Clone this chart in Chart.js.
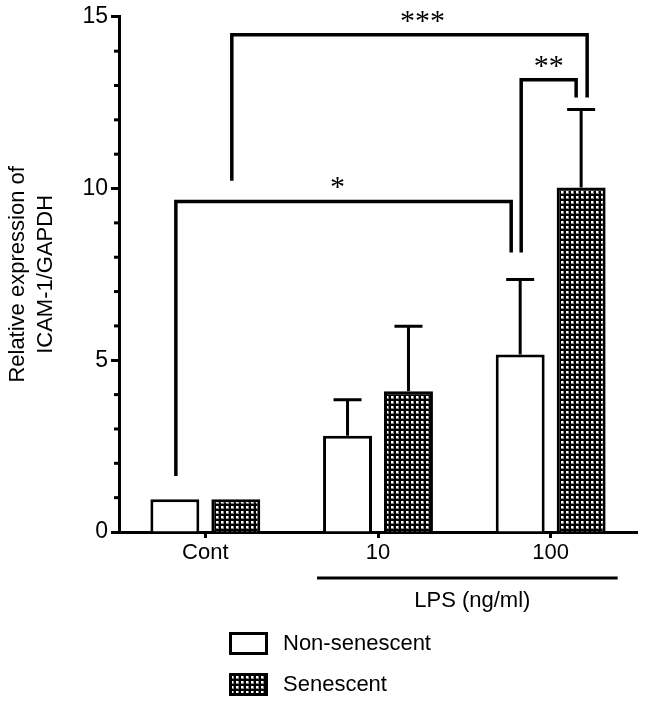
<!DOCTYPE html>
<html>
<head>
<meta charset="utf-8">
<script src="https://cdn.jsdelivr.net/npm/chart.js@4/dist/chart.umd.min.js"></script>
<style>
html,body{margin:0;padding:0;background:#fff}
</style>
</head>
<body>
<canvas id="chart" width="646" height="705"></canvas>
<script>
// values
const categories=['Cont','10','100'];
const seriesNames=['Non-senescent','Senescent'];
const nonSenescent=[0.95,2.8,5.17];
const senescent=[0.95,4.1,10.03];
const nonSenescentSD=[0,1.05,2.18];
const senescentSD=[0,1.89,2.27];
const yMax=15;
const yStep=5;

// significance brackets: [category, series] at each end, heights in y units
const bracketText=['*','**','***'];
const bracketFrom=[[0,0],[2,0],[0,1]];
const bracketTo=[[2,0],[2,1],[2,1]];
const bracketTop=[9.62,13.17,14.48];
const bracketFromEnd=[1.63,8.14,10.23];
const bracketToEnd=[8.14,12.65,12.65];

const FONT='"Liberation Sans", Arial, sans-serif';

const canvas=document.getElementById('chart');
const ctx=canvas.getContext('2d');

// checkered fill for the senescent bars
const tile=document.createElement('canvas');
tile.width=5;tile.height=5;
const tc=tile.getContext('2d');
tc.fillStyle='#000';tc.fillRect(0,0,5,5);
tc.fillStyle='#888';tc.fillRect(1,1,3,3);
tc.fillStyle='#fff';tc.fillRect(1,1,2,2);
const checker=ctx.createPattern(tile,'repeat');

const sds=[nonSenescentSD,senescentSD];

const extras={
  id:'extras',
  afterDatasetsDraw(chart){
    const c=chart.ctx, x=chart.scales.x, y=chart.scales.y, area=chart.chartArea;
    c.save();
    c.strokeStyle='#000';
    c.lineWidth=3;
    c.lineCap='butt';

    // minor ticks on y axis
    for(let v=1;v<yMax;v++){
      if(v%yStep===0) continue;
      const py=y.getPixelForValue(v);
      c.beginPath();c.moveTo(area.left-5,py);c.lineTo(area.left,py);c.stroke();
    }

    // error bars (upper only)
    chart.data.datasets.forEach((ds,di)=>{
      const meta=chart.getDatasetMeta(di);
      meta.data.forEach((bar,i)=>{
        const sd=sds[di][i];
        if(!sd) return;
        const top=y.getPixelForValue(ds.data[i]+sd);
        c.beginPath();
        c.moveTo(bar.x,bar.y);c.lineTo(bar.x,top);
        c.moveTo(bar.x-14,top);c.lineTo(bar.x+14,top);
        c.stroke();
      });
    });

    // brackets
    const fromShift=[1,1,-4], toShift=[-9,-5,6], labelShift=[-6,0,13];
    c.lineWidth=3.5;
    c.lineJoin='miter';
    bracketText.forEach((t,k)=>{
      const a=chart.getDatasetMeta(bracketFrom[k][1]).data[bracketFrom[k][0]];
      const b=chart.getDatasetMeta(bracketTo[k][1]).data[bracketTo[k][0]];
      const x1=a.x+fromShift[k], x2=b.x+toShift[k];
      const yt=y.getPixelForValue(bracketTop[k]);
      c.beginPath();
      c.moveTo(x1,y.getPixelForValue(bracketFromEnd[k]));
      c.lineTo(x1,yt);c.lineTo(x2,yt);
      c.lineTo(x2,y.getPixelForValue(bracketToEnd[k]));
      c.stroke();
      c.fillStyle='#000';
      c.font='30px "Liberation Serif", "Times New Roman", serif';
      c.textAlign='center';c.textBaseline='middle';
      c.fillText(t,(x1+x2)/2+labelShift[k],yt-13);
    });

    // LPS line and label
    const lx1=x.getPixelForValue(1)-61, lx2=x.getPixelForValue(2)+67;
    c.lineWidth=3;
    c.beginPath();c.moveTo(lx1,578);c.lineTo(lx2,578);c.stroke();
    c.fillStyle='#000';
    c.font='22px '+FONT;
    c.textAlign='center';c.textBaseline='middle';
    c.fillText('LPS (ng/ml)',(lx1+lx2)/2+5,601);

    // legend
    chart.data.datasets.forEach((ds,di)=>{
      const top=633+di*41;
      c.fillStyle=ds.backgroundColor;
      c.fillRect(230,top,37,21);
      c.strokeStyle='#000';c.lineWidth=3;
      c.strokeRect(230.5,top+0.5,36,20);
      c.fillStyle='#000';
      c.textAlign='left';c.textBaseline='middle';
      c.font='22px '+FONT;
      c.fillText(ds.label,283,top+11);
    });
    c.restore();
  }
};

new Chart(canvas,{
  type:'bar',
  data:{
    labels:categories,
    datasets:[
      {label:seriesNames[0],data:nonSenescent,backgroundColor:'#fff',borderColor:'#000',borderWidth:3},
      {label:seriesNames[1],data:senescent,backgroundColor:checker,borderColor:'#000',borderWidth:3}
    ]
  },
  options:{
    responsive:false,
    animation:false,
    categoryPercentage:0.706,
    barPercentage:0.803,
    layout:{padding:{left:0,right:9,top:16,bottom:0}},
    plugins:{legend:{display:false},tooltip:{enabled:false}},
    scales:{
      x:{
        offset:true,
        grid:{drawOnChartArea:false,offset:false,tickLength:6,tickWidth:3,tickColor:'#000'},
        border:{width:3,color:'#000'},
        ticks:{color:'#000',font:{family:FONT,size:22},padding:2},
        afterFit(s){s.height=705-532;}
      },
      y:{
        min:0,max:yMax,
        ticks:{stepSize:yStep,autoSkip:false,color:'#000',font:{family:FONT,size:23},padding:3},
        grid:{drawOnChartArea:false,tickLength:8,tickWidth:3,tickColor:'#000'},
        border:{width:3,color:'#000'},
        title:{display:true,text:['Relative expression of','ICAM-1/GAPDH'],color:'#000',
          font:{family:FONT,size:22,lineHeight:1.27},padding:{top:4,bottom:0}},
        afterFit(s){s.width=119;}
      }
    }
  },
  plugins:[extras]
});
</script>
</body>
</html>
